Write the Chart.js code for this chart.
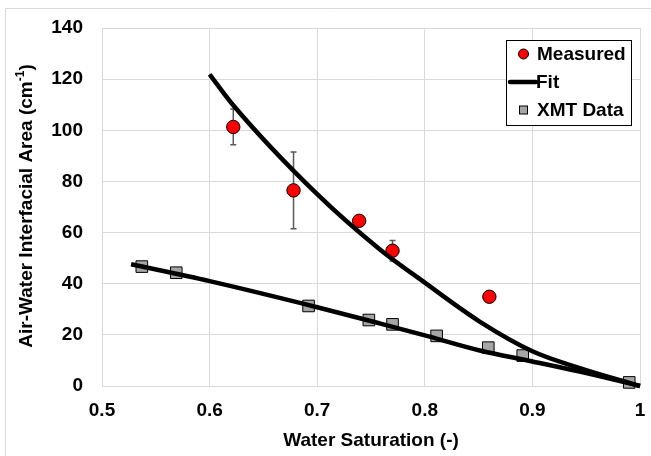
<!DOCTYPE html>
<html><head><meta charset="utf-8">
<script src="https://cdn.jsdelivr.net/npm/chart.js@4"></script>
<style>html,body{margin:0;padding:0;background:#fff}#wrap{width:651px;height:456px}</style>
</head><body>
<div id="wrap"><canvas id="c"></canvas></div>
<script>
// ---- data ----
const measuredX = [0.622, 0.678, 0.739, 0.770, 0.860];
const measuredY = [101.3, 76.5, 64.6, 52.9, 34.9];
const measuredErr = [7, 15, 0, 4, 0];
const xmtX = [0.537, 0.569, 0.692, 0.748, 0.770, 0.811, 0.859, 0.891, 0.990];
const xmtY = [46.7, 44.3, 31.3, 25.8, 24.1, 19.6, 15.0, 11.9, 1.4];
const fitUpperX = [0.600, 0.621, 0.700, 0.758, 0.800, 0.851, 0.900, 0.944, 1.000];
const fitUpperY = [121.9, 110.3, 75.0, 53.5, 40.4, 25.2, 13.6, 7.0, 0.0];
const fitLowerX = [0.527, 0.600, 0.700, 0.758, 0.800, 0.851, 0.900, 0.944, 1.000];
const fitLowerY = [47.6, 41.0, 30.8, 24.5, 19.8, 13.9, 9.6, 5.6, 0.0];
const xTickLabels = ['0.5', '0.6', '0.7', '0.8', '0.9', '1'];
const yTickLabels = ['0', '20', '40', '60', '80', '100', '120', '140'];
const legendLabels = ['Measured', 'Fit', 'XMT Data'];
const xTitle = 'Water Saturation (-)';
const yTitleMain = 'Air-Water Interfacial Area (cm';
const yTitleSup = '-1';
const yTitleEnd = ')';

const zip = (xs, ys) => xs.map((x, i) => ({x, y: ys[i]}));
const FONT = '"Liberation Sans", Arial, sans-serif';
const FS = 19;

const errorBars = {
  id: 'errorBars',
  beforeDatasetsDraw(chart) {
    const {ctx, scales: {x, y}} = chart;
    ctx.save();
    ctx.strokeStyle = '#595959';
    ctx.lineWidth = 1.5;
    measuredX.forEach((mx, i) => {
      const e = measuredErr[i];
      if (!e) return;
      const px = x.getPixelForValue(mx);
      const top = y.getPixelForValue(measuredY[i] + e);
      const bot = y.getPixelForValue(measuredY[i] - e);
      ctx.beginPath();
      ctx.moveTo(px, top); ctx.lineTo(px, bot);
      ctx.moveTo(px - 3, top); ctx.lineTo(px + 3, top);
      ctx.moveTo(px - 3, bot); ctx.lineTo(px + 3, bot);
      ctx.stroke();
    });
    ctx.restore();
  }
};

const decorations = {
  id: 'decorations',
  beforeDraw(chart) {
    const ctx = chart.ctx;
    ctx.save();
    ctx.strokeStyle = '#d9d9d9';
    ctx.lineWidth = 1;
    ctx.beginPath();
    ctx.moveTo(5.5, 470); ctx.lineTo(5.5, 8.5); ctx.lineTo(700, 8.5);
    ctx.stroke();
    ctx.restore();
  },
  afterDraw(chart) {
    const ctx = chart.ctx;
    const ca = chart.chartArea;
    ctx.save();
    // y-axis title with superscript
    ctx.translate(27, (ca.top + ca.bottom) / 2 - 1);
    ctx.rotate(-Math.PI / 2);
    ctx.fillStyle = '#000';
    ctx.textBaseline = 'middle';
    ctx.textAlign = 'left';
    const big = 'bold ' + FS + 'px ' + FONT, small = 'bold 12px ' + FONT;
    ctx.font = big; const w1 = ctx.measureText(yTitleMain).width; const w3 = ctx.measureText(yTitleEnd).width;
    ctx.font = small; const w2 = ctx.measureText(yTitleSup).width;
    let sx = -(w1 + w2 + w3) / 2;
    ctx.font = big; ctx.fillText(yTitleMain, sx, 0); sx += w1;
    ctx.font = small; ctx.fillText(yTitleSup, sx, -6); sx += w2;
    ctx.font = big; ctx.fillText(yTitleEnd, sx, 0);
    ctx.restore();

    // legend box
    ctx.save();
    const bx = 506.5, by = 40.5, bw = 125, bh = 85;
    ctx.fillStyle = '#fff';
    ctx.fillRect(bx, by, bw, bh);
    ctx.strokeStyle = '#000';
    ctx.lineWidth = 1;
    ctx.strokeRect(bx, by, bw, bh);
    ctx.font = 'bold ' + FS + 'px ' + FONT;
    ctx.textBaseline = 'middle';
    ctx.textAlign = 'left';
    const rows = [54, 82, 110];
    // Measured
    ctx.beginPath();
    ctx.arc(523.5, rows[0], 5, 0, Math.PI * 2);
    ctx.fillStyle = '#ff0000'; ctx.fill();
    ctx.strokeStyle = '#000'; ctx.lineWidth = 1; ctx.stroke();
    // Fit
    ctx.beginPath();
    ctx.moveTo(510, rows[1]); ctx.lineTo(536, rows[1]);
    ctx.lineWidth = 4.5; ctx.lineCap = 'round'; ctx.strokeStyle = '#000'; ctx.stroke();
    // XMT
    ctx.fillStyle = '#a6a6a6';
    ctx.fillRect(519.5, rows[2] - 4, 8, 8);
    ctx.lineWidth = 1; ctx.strokeRect(519.5, rows[2] - 4, 8, 8);
    ctx.fillStyle = '#000';
    ctx.fillText(legendLabels[0], 537, rows[0] + 1);
    ctx.fillText(legendLabels[1], 536, rows[1] + 1);
    ctx.fillText(legendLabels[2], 537, rows[2] + 1);
    ctx.restore();
  }
};

new Chart(document.getElementById('c'), {
  type: 'scatter',
  data: {
    datasets: [
      {label: 'Fit', data: zip(fitUpperX, fitUpperY), showLine: true, borderColor: '#000', borderWidth: 4.5,
       pointRadius: 0, cubicInterpolationMode: 'monotone', order: 0, clip: false},
      {label: 'Fit XMT', data: zip(fitLowerX, fitLowerY), showLine: true, borderColor: '#000', borderWidth: 4.5,
       pointRadius: 0, cubicInterpolationMode: 'monotone', order: 0, clip: false},
      {label: 'Measured', data: zip(measuredX, measuredY), backgroundColor: '#ff0000', borderColor: '#000',
       borderWidth: 1, pointRadius: 6.7, pointStyle: 'circle', order: 2, clip: false},
      {label: 'XMT Data', data: zip(xmtX, xmtY), backgroundColor: '#a6a6a6', borderColor: '#000',
       borderWidth: 1, pointRadius: 8.2, pointStyle: 'rect', order: 1, clip: false}
    ]
  },
  options: {
    responsive: true,
    maintainAspectRatio: false,
    animation: false,
    devicePixelRatio: 1,
    layout: {padding: {left: 0, top: 28, right: 11, bottom: 0}},
    plugins: {legend: {display: false}, tooltip: {enabled: false}},
    scales: {
      x: {
        type: 'linear', min: 0.5, max: 1,
        ticks: {stepSize: 0.1, color: '#000', font: {family: FONT, size: FS, weight: 'bold'}, padding: 13,
          callback: (v, i) => xTickLabels[i]},
        grid: {color: '#d9d9d9', drawTicks: false},
        border: {color: '#d9d9d9'},
        title: {display: true, text: xTitle, color: '#000', font: {family: FONT, size: FS, weight: 'bold'}, padding: {top: 4, bottom: 4}},
        afterFit: s => { s.height = 70; s.paddingLeft = 0; s.paddingRight = 0; }
      },
      y: {
        type: 'linear', min: 0, max: 140,
        ticks: {stepSize: 20, color: '#000', font: {family: FONT, size: FS, weight: 'bold'}, padding: 19,
          callback: (v, i) => yTickLabels[i]},
        grid: {color: '#d9d9d9', drawTicks: false},
        border: {color: '#d9d9d9'},
        afterFit: s => { s.width = 102; s.paddingTop = 0; s.paddingBottom = 0; }
      }
    }
  },
  plugins: [errorBars, decorations]
});
</script>
</body></html>
